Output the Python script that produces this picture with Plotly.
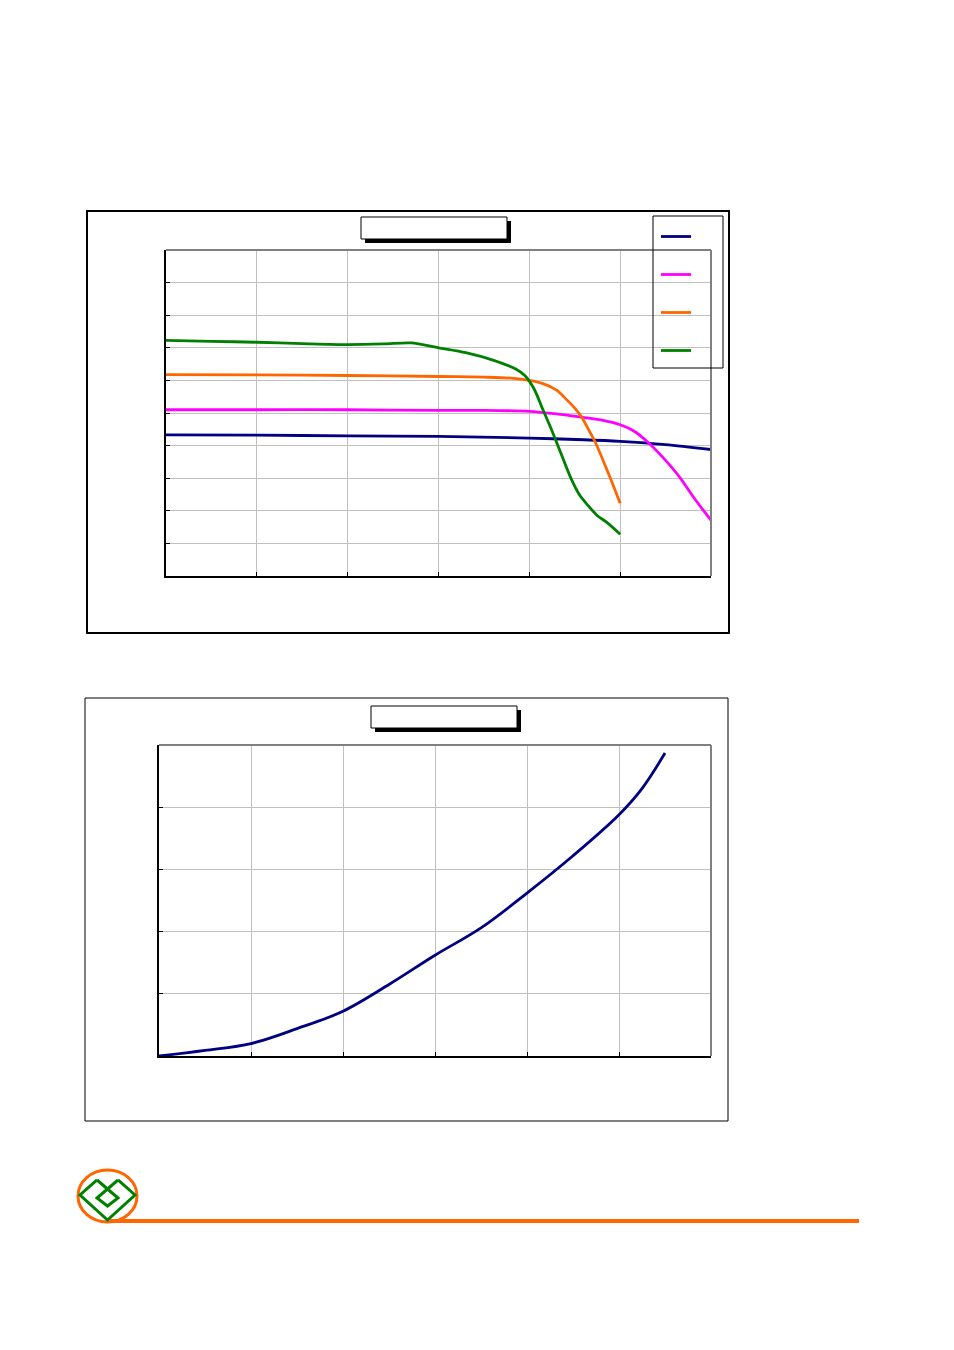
import plotly.graph_objects as go

W, H = 946, 1342
OFF = 8  # page body margin

# ---- Chart 1 data (4 series, arbitrary units) ----
blue_x = [0, 1, 2, 3, 4, 4.6, 5, 5.5, 6]
blue_y = [4.33, 4.32, 4.30, 4.28, 4.23, 4.18, 4.13, 4.03, 3.88]

magenta_x = [0, 1, 2, 3, 3.5, 4.0, 4.3, 4.55, 4.8, 5.0, 5.15, 5.3, 5.46, 5.65, 5.83, 6.0]
magenta_y = [5.1, 5.1, 5.1, 5.08, 5.08, 5.05, 4.97, 4.88, 4.78, 4.64, 4.45, 4.12, 3.67, 3.05, 2.33, 1.71]

orange_x = [0, 1, 2, 3, 3.5, 3.8, 4.0, 4.15, 4.3, 4.41, 4.5, 4.57, 4.65, 4.73, 4.87, 5.0]
orange_y = [6.18, 6.17, 6.15, 6.12, 6.1, 6.07, 6.0, 5.9, 5.7, 5.41, 5.15, 4.9, 4.5, 4.08, 3.15, 2.23]

green_x = [0, 0.5, 1, 1.5, 2, 2.4, 2.7, 3, 3.3, 3.6, 3.85, 3.95, 4.05, 4.15, 4.25, 4.35, 4.45, 4.55, 4.65, 4.75, 4.85, 5.0]
green_y = [7.23, 7.2, 7.17, 7.13, 7.10, 7.12, 7.15, 7.0, 6.85, 6.62, 6.35, 6.15, 5.75, 5.1, 4.45, 3.75, 3.05, 2.5, 2.15, 1.85, 1.65, 1.28]

# ---- Chart 2 data ----
curve_x = [0, 0.5, 1, 1.5, 2, 2.5, 3, 3.5, 4, 4.5, 5, 5.25, 5.5]
curve_y = [0, 0.09, 0.2, 0.44, 0.72, 1.15, 1.62, 2.06, 2.62, 3.22, 3.88, 4.3, 4.87]

NAVY = "#000080"
MAGENTA = "#FF00FF"
ORANGE = "#FF6600"
GREEN = "#008000"


def fx(p):
    return (p - OFF) / W


def fy(p):
    return 1 - (p - OFF) / H


fig = go.Figure()

series = [
    (blue_x, blue_y, NAVY, "g1"),
    (magenta_x, magenta_y, MAGENTA, "g2"),
    (orange_x, orange_y, ORANGE, "g3"),
    (green_x, green_y, GREEN, "g4"),
]
for xs, ys, col, grp in series:
    fig.add_trace(go.Scatter(
        x=xs, y=ys, mode="lines", name=" ",
        line=dict(color=col, width=2.8, shape="spline", smoothing=0.8),
        legendgroup=grp, showlegend=True, xaxis="x", yaxis="y",
    ))

fig.add_trace(go.Scatter(
    x=curve_x, y=curve_y, mode="lines", name=" ",
    line=dict(color=NAVY, width=2.8, shape="spline", smoothing=1.0),
    showlegend=False, xaxis="x2", yaxis="y2",
))

axis_common = dict(
    showticklabels=False, showgrid=True, gridcolor="#C0C0C0", gridwidth=1,
    zeroline=False, showline=True, linecolor="black", linewidth=1.5,
    ticks="inside", ticklen=4, tickcolor="black", dtick=1, fixedrange=True,
)

fig.update_layout(
    width=W, height=H,
    margin=dict(l=0, r=0, t=0, b=0),
    paper_bgcolor="white", plot_bgcolor="white",
    xaxis=dict(domain=[fx(166), fx(711)], range=[0, 6], anchor="y", **axis_common),
    yaxis=dict(domain=[fy(576), fy(250)], range=[0, 10], anchor="x", **axis_common),
    xaxis2=dict(domain=[fx(159), fx(711)], range=[0, 6], anchor="y2", **axis_common),
    yaxis2=dict(domain=[fy(1056), fy(745)], range=[0, 5], anchor="x2", **axis_common),
    legend=dict(
        x=fx(656), y=fy(222), xanchor="left", yanchor="top",
        bgcolor="rgba(0,0,0,0)", borderwidth=0,
        font=dict(family="Liberation Sans", size=12),
        tracegroupgap=19, itemwidth=30,
    ),
    showlegend=True,
)

shapes = []


def rect(x0, y0, x1, y1, lw=1, lc="black", fill=None, layer="above"):
    shapes.append(dict(
        type="rect", xref="paper", yref="paper",
        x0=fx(x0), x1=fx(x1), y0=fy(y0), y1=fy(y1),
        line=dict(color=lc, width=lw),
        fillcolor=fill if fill else "rgba(0,0,0,0)", layer=layer,
    ))


def seg(x0, y0, x1, y1, lw=1, lc="black"):
    shapes.append(dict(
        type="line", xref="paper", yref="paper",
        x0=fx(x0), x1=fx(x1), y0=fy(y0), y1=fy(y1),
        line=dict(color=lc, width=lw), layer="above",
    ))


# chart frames
rect(87, 211, 729, 633, lw=2)
rect(85, 698, 728, 1121, lw=1)

# plot area top/right gray borders
for xa, ya in (("x", "y"), ("x2", "y2")):
    shapes.append(dict(type="line", xref=f"{xa} domain", yref=f"{ya} domain",
                       x0=0, x1=1, y0=1, y1=1, line=dict(color="#808080", width=2), layer="above"))
    shapes.append(dict(type="line", xref=f"{xa} domain", yref=f"{ya} domain",
                       x0=1, x1=1, y0=0, y1=1, line=dict(color="#808080", width=2), layer="above"))

# title boxes with shadow
rect(365, 221, 511, 243, lw=0, fill="black")
rect(361, 217, 507, 239, lw=1, fill="white")
rect(375, 710, 521, 732, lw=0, fill="black")
rect(371, 706, 517, 728, lw=1, fill="white")

# legend box
rect(653, 216, 723, 368, lw=1, fill="rgba(0,0,0,0)")

# bottom logo and orange rule
seg(110, 1221, 859, 1221, lw=4, lc=ORANGE)
shapes.append(dict(type="circle", xref="paper", yref="paper",
                   x0=fx(78), x1=fx(137), y0=fy(1222), y1=fy(1170),
                   line=dict(color=ORANGE, width=3), layer="above"))


def path(pts, col, lw):
    d = "M " + " L ".join(f"{fx(a):.5f},{fy(b):.5f}" for a, b in pts)
    shapes.append(dict(type="path", xref="paper", yref="paper", path=d,
                       line=dict(color=col, width=lw), layer="above"))


path([(97, 1180), (80, 1195), (107.5, 1220), (135, 1195), (118, 1180)], GREEN, 3)
path([(97, 1180), (118, 1198), (107.5, 1206), (97, 1198), (118, 1180)], GREEN, 3)

fig.update_layout(shapes=shapes)

fig.write_html("out.html")
